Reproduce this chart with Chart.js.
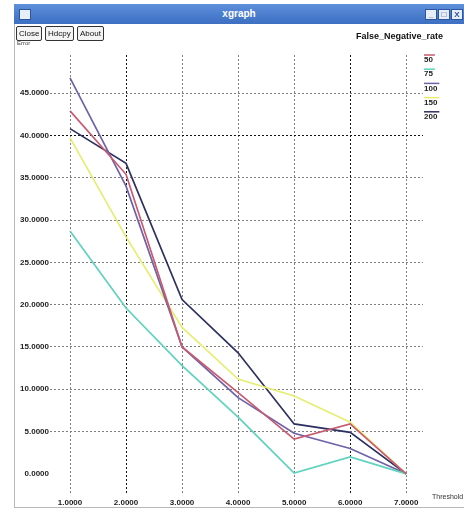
<!DOCTYPE html>
<html>
<head>
<meta charset="utf-8">
<script src="https://cdn.jsdelivr.net/npm/chart.js@4/dist/chart.umd.min.js"></script>
<style>
  body { margin: 0; background: #fff; font-family: "Liberation Sans", sans-serif; }
  #win { position: relative; width: 464px; height: 511px; overflow: hidden; background: #fff; }
  #frame { position: absolute; left: 14px; top: 4px; width: 449px; height: 503px; border: 1px solid #b8b8b8; border-top: none; }
  #titlebar { position: absolute; left: 14px; top: 4px; width: 450px; height: 20px;
    background: linear-gradient(#5d8fdc, #3d6fc2); color: #fff; font-size: 10px; font-weight: bold;
    text-align: center; line-height: 20px; }
  .ico { position: absolute; top: 5px; width: 10px; height: 9px; background: #e8eef8; border: 1px solid #2b56a0; font-size: 8px; line-height: 9px; color: #2b56a0; }
  .btn { position: absolute; top: 26px; height: 13px; border: 1px solid #333; border-radius: 2px; font-size: 8px;
    line-height: 13px; padding: 0 2px; background: #f4f4f4; color: #111; }
  #plotTitle { position: absolute; left: 356px; top: 31px; font-size: 9px; font-weight: bold; color: #111; }
  #errLbl { position: absolute; left: 17px; top: 40px; font-size: 6px; color: #444; }
  #chartBox { position: absolute; left: 0; top: 0; width: 464px; height: 511px; }
</style>
</head>
<body>
<div id="win">
  <div id="frame"></div>
  <div id="chartBox"><canvas id="myChart"></canvas></div>
  <div id="titlebar">xgraph
    <div class="ico" style="left:5px;"></div>
    <div class="ico" style="left:411px;">_</div>
    <div class="ico" style="left:424px;">□</div>
    <div class="ico" style="left:437px;">X</div>
  </div>
  <div class="btn" style="left:16px;">Close</div>
  <div class="btn" style="left:45px;">Hdcpy</div>
  <div class="btn" style="left:77px;">About</div>
  <div id="plotTitle">False_Negative_rate</div>
  <div id="errLbl">Error</div>
</div>
<script>
// threshold on the x axis
const thresholds = [1, 2, 3, 4, 5, 6, 7];
// false negative rate per series
const fnr50  = [42.9, 35.4, 15.0, 9.6, 4.1, 5.9, 0.0];
const fnr75  = [28.7, 19.6, 12.8, 6.7, 0.1, 2.0, 0.0];
const fnr100 = [46.8, 34.0, 15.0, 9.0, 4.8, 3.0, 0.0];
const fnr150 = [39.7, 28.0, 17.3, 11.2, 9.2, 6.1, 0.0];
const fnr200 = [40.8, 36.7, 20.6, 14.3, 5.9, 4.9, 0.0];
const seriesNames = ["50", "75", "100", "150", "200"];
const xTicks = [1, 2, 3, 4, 5, 6, 7];
const yTicks = [0, 5, 10, 15, 20, 25, 30, 35, 40, 45];

const colors = ["#c85a70", "#5ed3bd", "#6f62a8", "#e6ee72", "#2e3160"];
const allSeries = [fnr50, fnr75, fnr100, fnr150, fnr200];

function toPoints(arr) {
  return thresholds.map((t, i) => ({ x: t, y: arr[i] }));
}

// xgraph style legend at the right + axis name
const xgraphLegend = {
  id: 'xgraphLegend',
  afterDraw(chart) {
    const ctx = chart.ctx;
    ctx.save();
    ctx.font = 'bold 8px "Liberation Sans"';
    ctx.textBaseline = 'middle';
    ctx.textAlign = 'left';
    chart.data.datasets.forEach((ds, i) => {
      const y = 59 + i * 14.2;
      const w = ctx.measureText(ds.label).width;
      ctx.strokeStyle = ds.borderColor;
      ctx.lineWidth = 1.5;
      ctx.beginPath();
      ctx.moveTo(424, y - 4);
      ctx.lineTo(424 + w + 2, y - 4);
      ctx.stroke();
      ctx.fillStyle = '#222';
      ctx.fillText(ds.label, 424, y + 1);
    });
    ctx.font = '7px "Liberation Sans"';
    ctx.fillStyle = '#333';
    ctx.fillText('Threshold', 432, 497);
    ctx.restore();
  }
};

function gridColor(ctx, strong) {
  const v = ctx.tick && ctx.tick.value;
  if (v === 0 && ctx.scale.axis === 'y') return 'rgba(0,0,0,0)';
  return strong.includes(v) ? '#111' : '#7d7d7d';
}

const data = {
  datasets: allSeries.map((arr, i) => ({
    label: seriesNames[i],
    data: toPoints(arr),
    borderColor: colors[i],
    backgroundColor: colors[i],
    borderWidth: 1.7,
    pointRadius: 0,
    tension: 0
  }))
};

const config = {
  type: 'line',
  data: data,
  options: {
    responsive: true,
    maintainAspectRatio: false,
    animation: false,
    layout: { padding: { left: 0, top: 55, right: 41, bottom: 6 } },
    plugins: { legend: { display: false }, tooltip: { enabled: false } },
    scales: {
      x: {
        type: 'linear',
        min: 0.643,
        max: 7.3,
        afterBuildTicks: s => { s.ticks = xTicks.map(v => ({ value: v })); },
        afterFit: s => { s.height = 10; },
        border: { display: false },
        grid: {
          drawTicks: false,
          color: c => gridColor(c, [2, 6]),
          lineWidth: 1
        },
        ticks: {
          padding: 3,
          color: '#222',
          font: { family: 'Liberation Sans', size: 8, weight: 'bold' },
          callback: v => Number(v).toFixed(4)
        }
      },
      y: {
        type: 'linear',
        min: -2.5,
        max: 49.5,
        afterBuildTicks: s => { s.ticks = yTicks.map(v => ({ value: v })); },
        afterFit: s => { s.width = 50; },
        border: { display: false },
        grid: {
          drawTicks: false,
          color: c => gridColor(c, [40]),
          lineWidth: 1
        },
        ticks: {
          padding: 1,
          color: '#222',
          font: { family: 'Liberation Sans', size: 8, weight: 'bold' },
          callback: v => Number(v).toFixed(4)
        }
      }
    }
  },
  plugins: [xgraphLegend]
};

// dotted grid like xgraph
Chart.defaults.scale.grid.borderDash = [2, 2];
config.options.scales.x.border.dash = [2, 2];
config.options.scales.y.border.dash = [2, 2];

const ctx = document.getElementById('myChart').getContext('2d');
const myChart = new Chart(ctx, config);
</script>
</body>
</html>
